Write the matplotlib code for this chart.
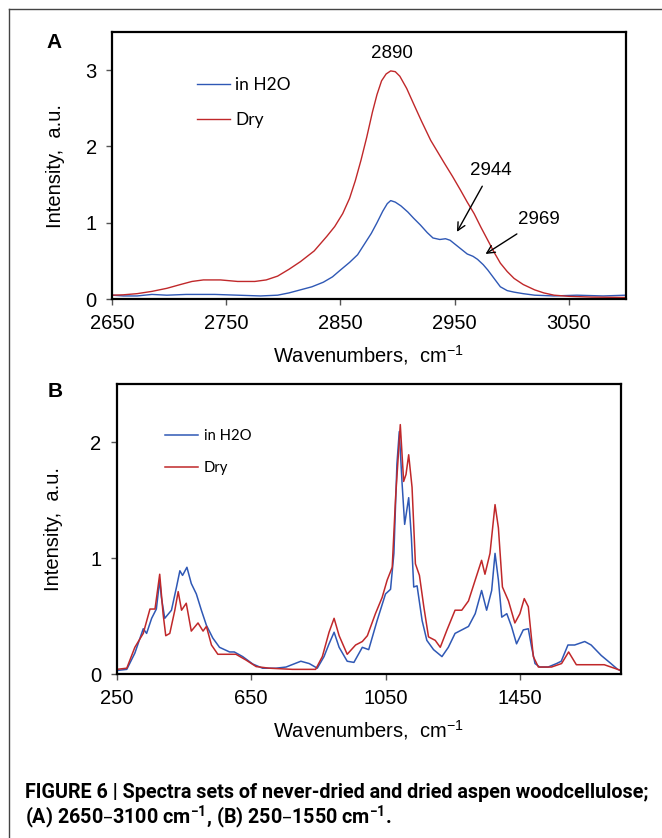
import matplotlib
matplotlib.use("Agg")
import matplotlib.pyplot as plt
from matplotlib.lines import Line2D

# Panel A: 2650-3100 cm-1
a_x_dry = [2650, 2660, 2672, 2685, 2698, 2710, 2720, 2730, 2745, 2760, 2775, 2785, 2795,
           2805, 2815, 2827, 2838, 2845, 2852, 2858, 2863, 2868, 2873, 2878, 2882, 2886,
           2890, 2894, 2898, 2902, 2908, 2914, 2921, 2929, 2935, 2941, 2948, 2955, 2961,
           2967, 2973, 2979, 2985, 2990, 2996, 3002, 3010, 3020, 3028, 3037, 3050, 3070,
           3100]
a_y_dry = [0.05, 0.055, 0.07, 0.10, 0.14, 0.19, 0.23, 0.25, 0.25, 0.23, 0.23, 0.25, 0.30,
           0.39, 0.49, 0.63, 0.82, 0.95, 1.12, 1.32, 1.55, 1.82, 2.12, 2.45, 2.68, 2.86,
           2.95, 2.99, 2.98, 2.92, 2.76, 2.56, 2.33, 2.08, 1.93, 1.78, 1.61, 1.43, 1.27,
           1.12, 0.94, 0.77, 0.60, 0.47, 0.36, 0.27, 0.19, 0.12, 0.08, 0.05, 0.035, 0.025,
           0.02]
a_x_h2o = [2650, 2660, 2672, 2685, 2698, 2715, 2740, 2760, 2780, 2795, 2805, 2815, 2825,
           2835, 2843, 2850, 2858, 2865, 2871, 2877, 2882, 2887, 2891, 2894, 2898, 2903,
           2909, 2914, 2920, 2926, 2931, 2937, 2942, 2946, 2951, 2956, 2961, 2966, 2970,
           2975, 2979, 2985, 2990, 2996, 3002, 3010, 3020, 3037, 3057, 3080, 3100]
a_y_h2o = [0.05, 0.04, 0.04, 0.06, 0.05, 0.06, 0.06, 0.05, 0.04, 0.05, 0.08, 0.12, 0.16,
           0.22, 0.29, 0.38, 0.48, 0.58, 0.72, 0.86, 1.00, 1.15, 1.25, 1.29, 1.27, 1.22,
           1.14, 1.06, 0.97, 0.87, 0.80, 0.78, 0.79, 0.77, 0.71, 0.65, 0.59, 0.56, 0.52,
           0.45, 0.38, 0.26, 0.16, 0.11, 0.09, 0.07, 0.05, 0.04, 0.05, 0.04, 0.05]

# Panel B: 250-1750 cm-1
b_x_h2o = [250, 280, 304, 329, 339, 354, 368, 378, 383, 393, 413, 428, 438, 446, 459, 472,
           487, 502, 517, 536, 556, 586, 600, 625, 655, 684, 724, 754, 798, 823, 847, 867,
           882, 897, 912, 936, 956, 981, 1000, 1025, 1050, 1065, 1075, 1084, 1091, 1099,
           1107, 1119, 1127, 1134, 1144, 1159, 1173, 1193, 1218, 1237, 1257, 1277, 1297,
           1317, 1336, 1351, 1366, 1376, 1386, 1396, 1411, 1425, 1440, 1460, 1475, 1485,
           1495, 1509, 1534, 1559, 1573, 1593, 1613, 1643, 1662, 1692, 1721, 1741, 1750]
b_y_h2o = [0.03, 0.04, 0.18, 0.39, 0.35, 0.48, 0.56, 0.81, 0.66, 0.48, 0.55, 0.75, 0.89,
           0.85, 0.92, 0.78, 0.69, 0.55, 0.42, 0.31, 0.23, 0.19, 0.19, 0.15, 0.086, 0.05,
           0.05, 0.06, 0.11, 0.09, 0.05, 0.15, 0.26, 0.36, 0.23, 0.11, 0.10, 0.23, 0.21,
           0.46, 0.69, 0.73, 1.04, 1.81, 2.09, 1.66, 1.29, 1.52, 1.18, 0.75, 0.76, 0.46,
           0.29, 0.21, 0.15, 0.23, 0.35, 0.38, 0.41, 0.52, 0.72, 0.55, 0.72, 1.04, 0.81,
           0.49, 0.52, 0.41, 0.26, 0.38, 0.39, 0.23, 0.09, 0.06, 0.06, 0.09, 0.11, 0.25,
           0.25, 0.28, 0.25, 0.16, 0.09, 0.04, 0.03]
b_x_dry = [250, 280, 304, 329, 349, 364, 378, 388, 396, 408, 423, 433, 443, 457, 472, 492,
           507, 517, 532, 551, 576, 605, 635, 665, 704, 773, 842, 862, 882, 897, 912, 936,
           961, 981, 996, 1020, 1040, 1055, 1070, 1080, 1094, 1104, 1111, 1119, 1129, 1139,
           1151, 1164, 1178, 1198, 1213, 1233, 1257, 1277, 1297, 1317, 1336, 1346, 1361,
           1376, 1386, 1398, 1416, 1435, 1450, 1463, 1475, 1490, 1505, 1544, 1574, 1595,
           1618, 1662, 1701, 1741, 1750]
b_y_dry = [0.04, 0.05, 0.23, 0.35, 0.56, 0.56, 0.86, 0.52, 0.33, 0.35, 0.55, 0.71, 0.55,
           0.61, 0.37, 0.44, 0.37, 0.41, 0.25, 0.17, 0.17, 0.17, 0.12, 0.064, 0.05, 0.04,
           0.04, 0.15, 0.36, 0.48, 0.33, 0.17, 0.25, 0.28, 0.33, 0.52, 0.66, 0.81, 0.92,
           1.52, 2.15, 1.66, 1.72, 1.89, 1.61, 0.95, 0.85, 0.58, 0.32, 0.29, 0.23, 0.38,
           0.55, 0.55, 0.63, 0.81, 0.98, 0.86, 1.04, 1.46, 1.26, 0.75, 0.63, 0.44, 0.52,
           0.65, 0.58, 0.15, 0.06, 0.06, 0.09, 0.19, 0.08, 0.08, 0.08, 0.04, 0.03]

a_xticks = [2650, 2750, 2850, 2950, 3050]
a_yticks = [0, 1, 2, 3]
b_xticks = [250, 650, 1050, 1450]
b_yticks = [0, 1, 2]

# peak labels in panel A: (text, text position, arrow head or None)
a_peaks = [("2890", (2895, 3.22), None),
           ("2944", (2982, 1.69), (2952, 0.88)),
           ("2969", (3024, 1.04), (2977, 0.59))]

BLUE = "#2f58b5"
RED = "#c0282a"

plt.rcParams["font.family"] = ["Liberation Sans", "DejaVu Sans"]
plt.rcParams["mathtext.default"] = "regular"

fig = plt.figure(figsize=(6.62, 8.38), dpi=100)
W, H = 662.0, 838.0


def make_axes(left, top, right, bottom):
    return fig.add_axes([left / W, 1 - bottom / H, (right - left) / W, (bottom - top) / H])


def style_axes(ax, xticks, yticks):
    ax.set_xticks(xticks)
    ax.set_yticks(yticks)
    ax.tick_params(axis="both", direction="out", length=4, width=1.0, color="#555555",
                   labelsize=14.5, pad=7)
    for sp in ax.spines.values():
        sp.set_linewidth(1.6)
        sp.set_color("black")


# ---- panel A
ax1 = make_axes(112, 32, 626, 299)
ax1.plot(a_x_h2o, a_y_h2o, color=BLUE, lw=1.0, label="in H2O")
ax1.plot(a_x_dry, a_y_dry, color=RED, lw=1.0, label="Dry")
ax1.set_xlim(2650, 3100)
ax1.set_ylim(0, 3.5)
style_axes(ax1, a_xticks, a_yticks)
ax1.set_xlabel("Wavenumbers,  cm$^{-1}$", fontsize=14.5)
ax1.set_ylabel("Intensity,  a.u.", fontsize=14.5)
ax1.xaxis.set_label_coords(0.5, -0.165)
ax1.yaxis.set_label_coords(-0.091, 0.5)
ax1.legend(loc="upper left", bbox_to_anchor=(0.165, 0.83), frameon=False,
           prop={"family": "Lato", "size": 12.5}, handlelength=1.9,
           handletextpad=0.3, labelspacing=1.1, borderpad=0, borderaxespad=0)
for txt, pos, head in a_peaks:
    if head is None:
        ax1.text(pos[0], pos[1], txt, ha="center", va="center", fontsize=13.5)
    else:
        ax1.annotate(txt, xy=head, xytext=pos, ha="center", va="center", fontsize=13.5,
                     arrowprops=dict(arrowstyle="->", color="black", lw=1.0,
                                     shrinkA=4, shrinkB=0, mutation_scale=14))

# ---- panel B
ax2 = make_axes(116.7, 384, 620.7, 674)
ax2.plot(b_x_h2o, b_y_h2o, color=BLUE, lw=1.1, label="in H2O")
ax2.plot(b_x_dry, b_y_dry, color=RED, lw=1.1, label="Dry")
ax2.set_xlim(250, 1750)
ax2.set_ylim(0, 2.5)
style_axes(ax2, b_xticks, b_yticks)
ax2.set_xlabel("Wavenumbers,  cm$^{-1}$", fontsize=14.5)
ax2.set_ylabel("Intensity,  a.u.", fontsize=14.5)
ax2.xaxis.set_label_coords(0.5, -0.152)
ax2.yaxis.set_label_coords(-0.1065, 0.5)
ax2.legend(loc="upper left", bbox_to_anchor=(0.096, 0.845), frameon=False,
           prop={"family": "Lato", "size": 10.7}, handlelength=2.2,
           handletextpad=0.4, labelspacing=1.2, borderpad=0, borderaxespad=0)

# panel letters
fig.text(46 / W, 1 - 48 / H, "A", fontsize=15, fontweight="bold", va="baseline")
fig.text(48 / W, 1 - 397 / H, "B", fontsize=15, fontweight="bold", va="baseline")

# caption
cap_font = ["Roboto", "DejaVu Sans"]
fig.text(25 / W, 1 - 798 / H,
         "FIGURE 6 | Spectra sets of never-dried and dried aspen woodcellulose;",
         family=cap_font, fontsize=14.2, fontweight="bold", va="baseline")
fig.text(25 / W, 1 - 824 / H,
         "(A) 2650\u20133100 cm$^{\u22121}$, (B) 250\u20131550 cm$^{\u22121}$.",
         family=cap_font, fontsize=14.2, fontweight="bold", va="baseline")

# frame around the figure
fig.add_artist(Line2D([8.5 / W, 8.5 / W], [0, 1 - 9 / H], color="#444444", lw=1.0))
fig.add_artist(Line2D([8.5 / W, 1], [1 - 9 / H, 1 - 9 / H], color="#444444", lw=1.0))

fig.savefig("out.png", dpi=100)
